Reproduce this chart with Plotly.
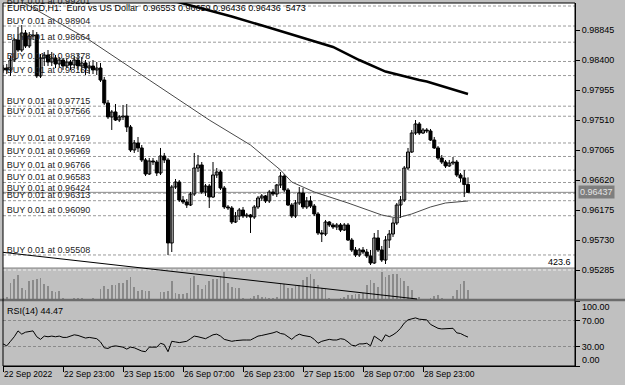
import plotly.graph_objects as go

# ---------------- data ----------------
tick_idx = [0, 16, 32, 48, 64, 80, 96, 112]
tick_labels = ["22 Sep 2022", "22 Sep 23:00", "23 Sep 15:00", "26 Sep 07:00",
               "26 Sep 23:00", "27 Sep 15:00", "28 Sep 07:00", "28 Sep 23:00"]

opens = [0.98252, 0.98281, 0.98252, 0.98400, 0.98697, 0.98548, 0.98801, 0.98608, 0.98756, 0.98771,
         0.98163, 0.98430, 0.98474, 0.98370, 0.98430, 0.98341, 0.98400, 0.98311, 0.98370, 0.98326,
         0.98400, 0.98311, 0.98356, 0.98281, 0.98311, 0.98252, 0.98281, 0.98103, 0.97762, 0.97555,
         0.97629, 0.97510, 0.97555, 0.97569, 0.97406, 0.97065, 0.97169, 0.97095, 0.96917, 0.96709,
         0.96902, 0.96887, 0.96724, 0.96976, 0.96917, 0.95686, 0.96516, 0.96590, 0.96323, 0.96294,
         0.96249, 0.96412, 0.96798, 0.96843, 0.96442, 0.96531, 0.96368, 0.96694, 0.96739, 0.96501,
         0.96220, 0.96205, 0.95997, 0.96086, 0.96175, 0.96086, 0.96101, 0.96071, 0.96220, 0.96353,
         0.96383, 0.96309, 0.96442, 0.96412, 0.96546, 0.96679, 0.96472, 0.96249, 0.96086, 0.96279,
         0.96427, 0.96220, 0.96309, 0.96234, 0.96116, 0.95834, 0.95819, 0.95997, 0.95953, 0.95923,
         0.95953, 0.95878, 0.95953, 0.95730, 0.95582, 0.95508, 0.95582, 0.95552, 0.95493, 0.95389,
         0.95760, 0.95582, 0.95433, 0.95730, 0.95819, 0.95982, 0.96249, 0.96323, 0.96798, 0.97035,
         0.97317, 0.97451, 0.97317, 0.97362, 0.97347, 0.97213, 0.97095, 0.96946, 0.96887, 0.96828,
         0.96872, 0.96887, 0.96694, 0.96650, 0.96553]
highs = [0.98326, 0.98341, 0.98459, 0.98726, 0.98890, 0.98919, 0.98845, 0.98815, 0.98845, 0.98815,
         0.98489, 0.98519, 0.98548, 0.98519, 0.98474, 0.98445, 0.98430, 0.98415, 0.98400, 0.98459,
         0.98489, 0.98445, 0.98400, 0.98370, 0.98400, 0.98370, 0.98356, 0.98148, 0.97807, 0.97658,
         0.97747, 0.97584, 0.97733, 0.97747, 0.97436, 0.97213, 0.97258, 0.97139, 0.96946, 0.96946,
         0.96946, 0.96917, 0.97095, 0.97021, 0.96946, 0.96546, 0.96635, 0.96620, 0.96383, 0.96338,
         0.96442, 0.97021, 0.96991, 0.96887, 0.96561, 0.96561, 0.96887, 0.96798, 0.96768, 0.96531,
         0.96249, 0.96234, 0.96145, 0.96205, 0.96220, 0.96131, 0.96116, 0.96249, 0.96383, 0.96412,
         0.96398, 0.96472, 0.96487, 0.96561, 0.96739, 0.96709, 0.96501, 0.96279, 0.96323, 0.96516,
         0.96501, 0.96368, 0.96383, 0.96264, 0.96145, 0.95878, 0.96027, 0.96012, 0.95982, 0.95982,
         0.95982, 0.95982, 0.95982, 0.95760, 0.95626, 0.95611, 0.95626, 0.95597, 0.95582, 0.95834,
         0.95878, 0.95641, 0.95789, 0.95878, 0.96056, 0.96279, 0.96383, 0.96828, 0.97095, 0.97362,
         0.97510, 0.97480, 0.97391, 0.97391, 0.97377, 0.97258, 0.97124, 0.96991, 0.96917, 0.96917,
         0.96961, 0.96917, 0.96724, 0.96768, 0.96659]
lows = [0.98207, 0.98192, 0.98163, 0.98370, 0.98519, 0.98519, 0.98578, 0.98578, 0.98697, 0.98133,
        0.98133, 0.98311, 0.98311, 0.98311, 0.98281, 0.98296, 0.98252, 0.98281, 0.98252, 0.98281,
        0.98252, 0.98207, 0.98178, 0.98192, 0.98192, 0.98178, 0.98074, 0.97733, 0.97525, 0.97362,
        0.97495, 0.97480, 0.97510, 0.97332, 0.97035, 0.97021, 0.97035, 0.96887, 0.96679, 0.96694,
        0.96843, 0.96679, 0.96694, 0.96872, 0.95508, 0.95552, 0.96487, 0.96294, 0.96264, 0.96205,
        0.96234, 0.96383, 0.96739, 0.96412, 0.96383, 0.96205, 0.96353, 0.96650, 0.96472, 0.96190,
        0.96175, 0.95967, 0.95982, 0.96027, 0.96056, 0.96056, 0.95834, 0.96042, 0.96190, 0.96309,
        0.96279, 0.96279, 0.96383, 0.96368, 0.96501, 0.96442, 0.96234, 0.96056, 0.96056, 0.96249,
        0.96190, 0.96190, 0.96205, 0.96086, 0.95804, 0.95700, 0.95789, 0.95923, 0.95893, 0.95878,
        0.95849, 0.95864, 0.95715, 0.95552, 0.95478, 0.95478, 0.95522, 0.95463, 0.95359, 0.95374,
        0.95552, 0.95404, 0.95374, 0.95611, 0.95775, 0.95953, 0.96056, 0.96294, 0.96768, 0.97021,
        0.97288, 0.97288, 0.97302, 0.97317, 0.97199, 0.97080, 0.96917, 0.96857, 0.96798, 0.96813,
        0.96843, 0.96665, 0.96590, 0.96368, 0.96436]
closes = [0.98281, 0.98252, 0.98400, 0.98697, 0.98548, 0.98801, 0.98608, 0.98756, 0.98771, 0.98163,
          0.98430, 0.98474, 0.98370, 0.98430, 0.98341, 0.98400, 0.98311, 0.98370, 0.98326, 0.98400,
          0.98311, 0.98356, 0.98281, 0.98311, 0.98252, 0.98281, 0.98103, 0.97762, 0.97555, 0.97629,
          0.97510, 0.97555, 0.97569, 0.97406, 0.97065, 0.97169, 0.97095, 0.96917, 0.96709, 0.96902,
          0.96887, 0.96724, 0.96976, 0.96917, 0.95686, 0.96516, 0.96590, 0.96323, 0.96294, 0.96249,
          0.96412, 0.96798, 0.96843, 0.96442, 0.96531, 0.96368, 0.96694, 0.96739, 0.96501, 0.96220,
          0.96205, 0.95997, 0.96086, 0.96175, 0.96086, 0.96101, 0.96071, 0.96220, 0.96353, 0.96383,
          0.96309, 0.96442, 0.96412, 0.96546, 0.96679, 0.96472, 0.96249, 0.96086, 0.96279, 0.96427,
          0.96220, 0.96309, 0.96234, 0.96116, 0.95834, 0.95819, 0.95997, 0.95953, 0.95923, 0.95953,
          0.95878, 0.95953, 0.95730, 0.95582, 0.95508, 0.95582, 0.95552, 0.95493, 0.95389, 0.95760,
          0.95582, 0.95433, 0.95730, 0.95819, 0.95982, 0.96249, 0.96323, 0.96798, 0.97035, 0.97317,
          0.97451, 0.97317, 0.97362, 0.97347, 0.97213, 0.97095, 0.96946, 0.96887, 0.96828, 0.96872,
          0.96887, 0.96694, 0.96650, 0.96553, 0.96436]
volumes = [28, 42, 240, 297, 353, 169, 141, 268, 282, 297,
           311, 226, 198, 127, 113, 127, 28, 14, 14, 28,
           28, 28, 14, 14, 28, 14, 155, 198, 155, 212,
           212, 240, 240, 282, 325, 184, 127, 141, 127, 127,
           14, 14, 113, 113, 127, 268, 99, 85, 85, 99,
           311, 339, 212, 155, 212, 268, 297, 297, 339, 395,
           240, 184, 169, 169, 28, 14, 28, 56, 71, 42,
           42, 28, 28, 42, 226, 226, 169, 169, 198, 212,
           282, 325, 367, 297, 212, 169, 155, 28, 14, 14,
           28, 42, 71, 71, 85, 85, 99, 212, 282, 240,
           184, 395, 325, 353, 367, 367, 311, 268, 198, 141,
           14, 42, 14, 14, 28, 56, 71, 28, 14, 14,
           56, 141, 226, 268, 141]
rsi = [34, 31, 38, 45, 54, 49, 52, 53, 54, 45,
       41, 46, 45, 46, 45, 46, 44, 44, 46, 48,
       47, 45, 43, 44, 43, 42, 37, 28, 27, 30,
       31, 30, 29, 26, 29, 28, 25, 23, 22, 29,
       29, 29, 35, 33, 22, 38, 37, 36, 37, 38,
       42, 46, 45, 43, 42, 45, 48, 49, 46, 41,
       39, 38, 39, 40, 40, 40, 40, 43, 46, 47,
       48, 50, 51, 53, 50, 49, 45, 41, 46, 49,
       47, 46, 45, 41, 35, 38, 40, 41, 40, 40,
       42, 41, 37, 32, 31, 34, 34, 35, 31, 46,
       42, 38, 48, 45, 48, 52, 58, 66, 71, 73,
       74, 72, 72, 71, 64, 61, 58, 57, 57, 58,
       58, 51, 50, 47, 44.47]

ma_fast_idx = [0, 8, 23, 39, 55, 66, 74, 77, 83, 92, 101, 105, 109, 114, 118, 124]
ma_fast = [0.99424, 0.99171, 0.98697, 0.98103, 0.97510, 0.97139, 0.96768, 0.96590,
           0.96442, 0.96279, 0.96101, 0.96056, 0.96116, 0.96220, 0.96279, 0.96309]
ma_slow_idx = [44, 52, 61, 70, 79, 88, 95, 102, 111, 113, 124]
ma_slow = [0.99299, 0.99179, 0.99045, 0.98897, 0.98749, 0.98593, 0.98400, 0.98229,
           0.98103, 0.98081, 0.97896]

order_prices = [0.99201, 0.98904, 0.98664, 0.98378, 0.98169, 0.97715, 0.97566, 0.97169,
                0.96969, 0.96766, 0.96583, 0.96424, 0.96313, 0.96090, 0.95508]
order_labels = ["BUY 0.01 at %.5f" % p for p in order_prices]

price_ticks = [0.98845, 0.98400, 0.97955, 0.97510, 0.97065, 0.96620, 0.96175, 0.95730, 0.95285]
rsi_ticks = [100, 70, 30, 0]
rsi_levels = [70, 30]
bid_price = 0.96437
trend_x = [-0.8, 110.4]
trend_y = [0.95552, 0.94855]
vol_max = 423.6
header = "EURUSD,H1:  Euro vs US Dollar  0.96553 0.96659 0.96436 0.96436  5473"
rsi_title = "RSI(14) 44.47"

# ---------------- layout geometry (pixels) ----------------
W, H = 625, 385
ML, MR, MT, MB = 3, 50, 3, 19
PW, PH = W - ML - MR, H - MT - MB


def pyp(pix):
    return (H - MB - pix) / PH


def pxp(pix):
    return (pix - ML) / PW


BAR_PX = 3.75
MAIN_TOP, MAIN_BOT, WHITE_BOT, RSI_TOP = 3, 300, 268, 301
REF_PRICE, REF_PIX, PX_PRICE = 0.95285, 270, 0.00445 / 30
y_range = [REF_PRICE - (MAIN_BOT - REF_PIX) * PX_PRICE, REF_PRICE + (REF_PIX - MAIN_TOP) * PX_PRICE]
vol_range = [0, vol_max * (MAIN_BOT - MAIN_TOP) / (MAIN_BOT - REF_PIX)]

FONT = "Liberation Sans, Arial, sans-serif"
n = len(closes)
idx = list(range(n))

fig = go.Figure()

# wicks
wx, wy = [], []
for i in idx:
    wx += [i, i, None]
    wy += [lows[i], highs[i], None]
fig.add_trace(go.Scatter(x=wx, y=wy, mode="lines", line=dict(color="black", width=1),
                         hoverinfo="skip", showlegend=False))

# order labels (drawn under candles)
fig.add_trace(go.Scatter(x=[1.0] * len(order_prices), y=order_prices, mode="text",
                         text=order_labels, textposition="top right",
                         textfont=dict(family=FONT, size=9, color="#222222"),
                         hoverinfo="skip", showlegend=False, cliponaxis=False))

MIN_BODY = 0.00002
bull = [i for i in idx if closes[i] >= opens[i]]
bear = [i for i in idx if closes[i] < opens[i]]
fig.add_trace(go.Bar(x=bull, y=[max(closes[i] - opens[i], MIN_BODY) for i in bull],
                     base=[opens[i] for i in bull], width=0.8,
                     marker=dict(color="white", line=dict(color="black", width=1)),
                     hoverinfo="skip", showlegend=False))
fig.add_trace(go.Bar(x=bear, y=[max(opens[i] - closes[i], MIN_BODY) for i in bear],
                     base=[closes[i] for i in bear], width=0.8,
                     marker=dict(color="black", line=dict(color="black", width=1)),
                     hoverinfo="skip", showlegend=False))

# moving averages
fig.add_trace(go.Scatter(x=ma_fast_idx, y=ma_fast, mode="lines",
                         line=dict(color="#4a4a4a", width=1), hoverinfo="skip", showlegend=False))
fig.add_trace(go.Scatter(x=ma_slow_idx, y=ma_slow, mode="lines",
                         line=dict(color="black", width=2.5), hoverinfo="skip", showlegend=False))

# volumes
fig.add_trace(go.Bar(x=idx, y=volumes, yaxis="y2", width=0.24,
                     marker=dict(color="#8a8a8a", line=dict(width=0)),
                     hoverinfo="skip", showlegend=False))

# RSI
fig.add_trace(go.Scatter(x=idx, y=rsi, yaxis="y3", mode="lines",
                         line=dict(color="black", width=1), hoverinfo="skip", showlegend=False))

shapes = []
# white price area
shapes.append(dict(type="rect", xref="paper", yref="paper", x0=0, x1=1,
                   y0=pyp(WHITE_BOT), y1=1, fillcolor="white", line=dict(width=0), layer="below"))
# order lines
for p in order_prices:
    shapes.append(dict(type="line", xref="paper", yref="y", x0=0, x1=1, y0=p, y1=p,
                       line=dict(color="#9a9a9a", width=1, dash="3px,2px"), layer="below"))
# bid line
shapes.append(dict(type="line", xref="paper", yref="y", x0=0, x1=1, y0=bid_price, y1=bid_price,
                   line=dict(color="#8c8c8c", width=1), layer="below"))
# pane separators
shapes.append(dict(type="line", xref="paper", yref="paper", x0=0, x1=1,
                   y0=pyp(WHITE_BOT), y1=pyp(WHITE_BOT), line=dict(color="#808080", width=1)))
shapes.append(dict(type="line", xref="paper", yref="paper", x0=0, x1=1,
                   y0=pyp(REF_PIX), y1=pyp(REF_PIX), line=dict(color="#eeeeee", width=1, dash="3px,2px")))
shapes.append(dict(type="line", xref="paper", yref="paper", x0=-0.01, x1=(W - ML) / PW,
                   y0=pyp(MAIN_BOT), y1=pyp(MAIN_BOT), line=dict(color="#6c6c6c", width=2.5)))
# RSI levels
for lv in rsi_levels:
    shapes.append(dict(type="line", xref="paper", yref="y3", x0=0, x1=1, y0=lv, y1=lv,
                       line=dict(color="#8a8a8a", width=1, dash="3px,2px"), layer="below"))
# trend line
shapes.append(dict(type="line", xref="x", yref="y", x0=trend_x[0], x1=trend_x[1],
                   y0=trend_y[0], y1=trend_y[1], line=dict(color="black", width=1), layer="above"))
# border
shapes.append(dict(type="rect", xref="paper", yref="paper", x0=0, x1=1, y0=0, y1=1,
                   line=dict(color="black", width=1), layer="above"))

annotations = [
    dict(xref="paper", yref="paper", x=pxp(5), y=pyp(8), text=header, showarrow=False,
         xanchor="left", yanchor="middle", font=dict(family=FONT, size=9, color="black")),
    dict(xref="paper", yref="paper", x=pxp(5), y=pyp(311), text=rsi_title, showarrow=False,
         xanchor="left", yanchor="middle", font=dict(family=FONT, size=9, color="black")),
    dict(xref="paper", yref="paper", x=pxp(573), y=pyp(262), text="%.1f" % vol_max, showarrow=False,
         xanchor="right", yanchor="middle", font=dict(family=FONT, size=9, color="black")),
    dict(xref="paper", yref="y", x=1, y=bid_price, xshift=3, text="%.5f" % bid_price, showarrow=False,
         xanchor="left", yanchor="middle", bgcolor="#7e7e7e", borderpad=1,
         font=dict(family=FONT, size=9, color="#e4e4e4")),
    dict(xref="paper", yref="paper", x=1, xshift=5, y=pyp(307), text="%.2f" % rsi_ticks[0], showarrow=False,
         xanchor="left", yanchor="middle", font=dict(family=FONT, size=9, color="black")),
    dict(xref="paper", yref="paper", x=1, xshift=5, y=pyp(360), text="%.2f" % rsi_ticks[-1], showarrow=False,
         xanchor="left", yanchor="middle", font=dict(family=FONT, size=9, color="black")),
]

fig.update_layout(
    width=W, height=H, margin=dict(l=ML, r=MR, t=MT, b=MB, pad=0),
    paper_bgcolor="#c0c0c0", plot_bgcolor="#c0c0c0",
    barmode="overlay", showlegend=False, hovermode=False,
    font=dict(family=FONT, size=9, color="black"),
    xaxis=dict(domain=[0, 1], range=[0, PW / BAR_PX], anchor="y3",
               tickvals=tick_idx, ticktext=tick_labels, ticks="outside", ticklen=5,
               tickcolor="black", ticklabelposition="outside right",
               tickfont=dict(family=FONT, size=8.5, color="black"),
               showline=True, linecolor="black", showgrid=False, zeroline=False),
    yaxis=dict(domain=[pyp(MAIN_BOT), 1], range=y_range, side="right", anchor="x",
               tickvals=price_ticks, ticktext=["%.5f" % p for p in price_ticks],
               ticks="outside", ticklen=4, tickcolor="black",
               tickfont=dict(family=FONT, size=9, color="black"),
               showline=True, linecolor="black", showgrid=False, zeroline=False),
    yaxis2=dict(overlaying="y", range=vol_range, visible=False),
    yaxis3=dict(domain=[0, pyp(RSI_TOP)], range=[0, 100], side="right", anchor="x",
                tickvals=rsi_ticks, ticktext=["", "70.00", "30.00", ""],
                ticks="outside", ticklen=4, tickcolor="black",
                tickfont=dict(family=FONT, size=9, color="black"),
                showline=True, linecolor="black", showgrid=False, zeroline=False),
    shapes=shapes, annotations=annotations,
)

fig.write_html("out.html", config={"displayModeBar": False})
